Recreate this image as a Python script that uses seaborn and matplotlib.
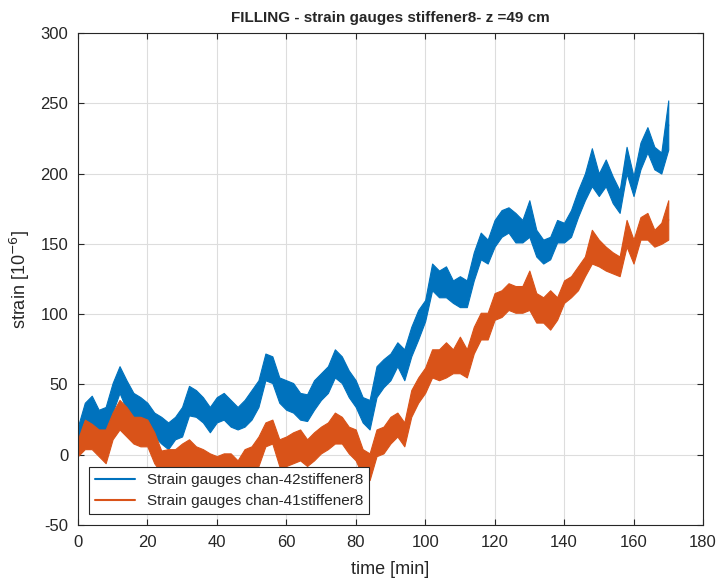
import numpy as np
import pandas as pd
import matplotlib
matplotlib.use("Agg")
import matplotlib.pyplot as plt
import seaborn as sns

# time axis [min], sampled every 2 min
time = np.arange(0, 171, 2)

# chan-42 noise band (upper / lower envelope)
ch42_hi = [20, 37, 42, 32, 34, 51, 63, 53, 44, 41, 37, 30, 27, 23, 27, 34, 49, 46, 41, 34,
           41, 44, 39, 34, 39, 46, 53, 72, 70, 55, 53, 51, 44, 43, 53, 58, 63, 75, 70, 60,
           53, 41, 39, 63, 68, 72, 80, 75, 91, 103, 110, 136, 131, 134, 124, 127, 124, 144, 158, 153,
           167, 174, 176, 172, 167, 181, 160, 153, 155, 167, 165, 174, 188, 200, 218, 200, 210, 198, 188, 219,
           198, 222, 233, 219, 215, 252]
ch42_lo = [6, 18, 20, 13, 15, 30, 44, 32, 25, 23, 20, 13, 8, 4, 11, 13, 28, 27, 23, 16,
           23, 25, 20, 18, 20, 25, 34, 53, 51, 37, 32, 30, 25, 24, 32, 39, 44, 55, 51, 41,
           34, 23, 18, 41, 48, 53, 63, 53, 70, 82, 95, 117, 112, 112, 108, 105, 105, 124, 139, 136,
           148, 155, 158, 151, 151, 155, 141, 136, 139, 151, 151, 155, 169, 181, 191, 184, 191, 179, 172, 200,
           184, 203, 215, 203, 200, 217]

# chan-41 noise band
ch41_hi = [13, 25, 22, 18, 18, 30, 39, 34, 27, 27, 25, 16, 3, 4, 4, 8, 11, 6, 4, 1,
           -1, 1, 1, -4, 4, 6, 13, 23, 25, 11, 13, 16, 18, 11, 16, 20, 23, 30, 27, 20,
           18, 4, 1, 18, 20, 27, 30, 23, 46, 55, 62, 75, 75, 80, 75, 84, 75, 91, 101, 101,
           115, 117, 122, 120, 120, 131, 115, 112, 117, 112, 124, 127, 134, 141, 160, 153, 148, 144, 141, 167,
           153, 169, 172, 160, 165, 181]
ch41_lo = [-1, 4, 4, -1, -6, 11, 18, 13, 8, 6, 6, -6, -13, -14, -14, -12, -8, -12, -14, -16,
           -18, -16, -16, -20, -14, -12, -8, 6, 8, -8, -8, -6, -4, -8, -4, 1, 4, 8, 8, 1,
           -4, -15, -18, -1, 1, 8, 13, 6, 27, 37, 44, 55, 53, 55, 58, 58, 55, 72, 82, 82,
           96, 98, 103, 101, 101, 103, 94, 94, 89, 96, 108, 112, 117, 127, 136, 134, 131, 129, 127, 148,
           136, 153, 153, 148, 150, 153]

labels = ["Strain gauges chan-42stiffener8", "Strain gauges chan-41stiffener8"]
colors = ["#0072BD", "#D95319"]

bands = {labels[0]: (np.array(ch42_hi), np.array(ch42_lo)),
         labels[1]: (np.array(ch41_hi), np.array(ch41_lo))}

df = pd.concat([
    pd.DataFrame({"time": time, "strain": (hi + lo) / 2, "channel": name})
    for name, (hi, lo) in bands.items()
])

sns.set_style("ticks")
plt.rcParams["font.family"] = ["Liberation Sans", "DejaVu Sans"]
plt.rcParams["axes.unicode_minus"] = False

fig = plt.figure(figsize=(7.21, 5.88), dpi=100)
ax = fig.add_axes([0.108, 0.107, 0.867, 0.837])

sns.lineplot(data=df, x="time", y="strain", hue="channel", palette=colors,
             linewidth=1.5, ax=ax)
for (name, (hi, lo)), c in zip(bands.items(), colors):
    ax.fill_between(time, lo, hi, color=c, linewidth=0.8, edgecolor=c)

ax.set_xlim(0, 180)
ax.set_ylim(-50, 300)
ax.set_xticks(range(0, 181, 20))
ax.set_yticks(range(-50, 301, 50))
ax.grid(True, color="#dddddd", linewidth=0.8)
ax.set_axisbelow(True)
ax.tick_params(direction="in", length=4, labelsize=12, colors="#262626",
               top=True, right=True, pad=7)
for s in ax.spines.values():
    s.set_color("#262626")
    s.set_linewidth(0.8)

ax.set_title("FILLING - strain gauges stiffener8- z =49 cm", fontsize=11,
             fontweight="bold", pad=8)
ax.set_xlabel("time [min]", fontsize=13, color="#262626", labelpad=8)
ax.set_ylabel("strain [10$^{\\mathrm{-6}}$]", fontsize=13, color="#262626", labelpad=6)

leg = ax.legend(loc="lower left", bbox_to_anchor=(0.0176, 0.022), borderaxespad=0,
                fontsize=11, handlelength=2.6, fancybox=False, framealpha=1,
                edgecolor="#262626", labelspacing=0.45, borderpad=0.4)
leg.get_frame().set_linewidth(0.8)

fig.savefig("out.png", dpi=100)
